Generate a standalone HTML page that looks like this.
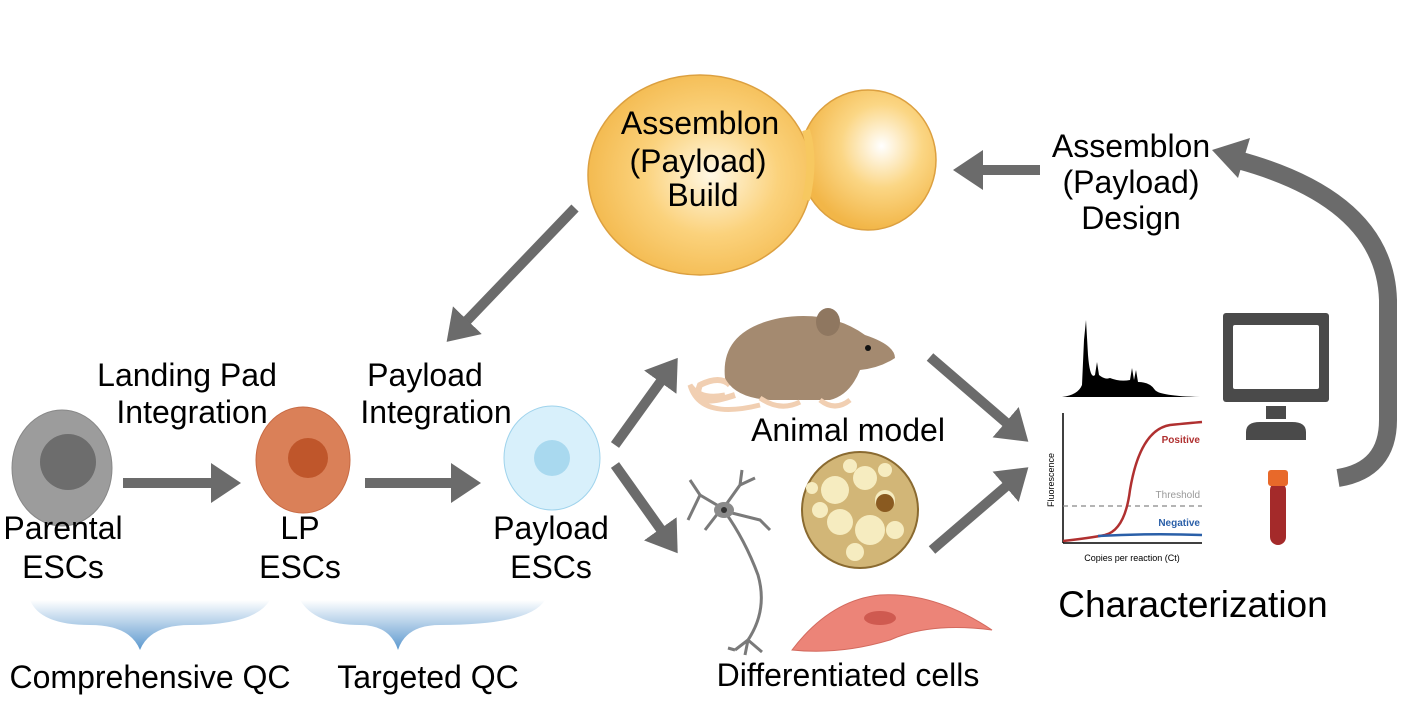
<!DOCTYPE html>
<html><head><meta charset="utf-8"><style>
html,body{margin:0;padding:0;background:#fff;}
svg{display:block;font-family:"Liberation Sans",Arial,sans-serif;}
</style></head><body>
<svg width="1402" height="703" viewBox="0 0 1402 703" xmlns="http://www.w3.org/2000/svg">
<defs>
<marker id="ah" markerWidth="4" markerHeight="4" refX="1.5" refY="2" orient="auto" markerUnits="strokeWidth">
<path d="M0,0 L3,2 L0,4 Z" fill="#6b6b6b"/></marker>
<radialGradient id="yg" cx="0.55" cy="0.5" r="0.6"><stop offset="0" stop-color="#fff8e4"/><stop offset="0.5" stop-color="#fbd27c"/><stop offset="1" stop-color="#f2b648"/></radialGradient>
<radialGradient id="yg2" cx="0.6" cy="0.4" r="0.6"><stop offset="0" stop-color="#ffffff"/><stop offset="0.5" stop-color="#fbd684"/><stop offset="1" stop-color="#f2b648"/></radialGradient>
<linearGradient id="bg" x1="0" y1="0" x2="0" y2="1"><stop offset="0" stop-color="#ffffff"/><stop offset="1" stop-color="#3f86c6"/></linearGradient>
</defs>

<ellipse cx="62" cy="468" rx="50" ry="58" fill="#9c9c9c" stroke="#888" stroke-width="1"/>
<circle cx="68" cy="462" r="28" fill="#6d6d6d"/>
<ellipse cx="303" cy="460" rx="47" ry="53" fill="#da8058" stroke="#c76a44"/>
<circle cx="308" cy="458" r="20" fill="#bf562b"/>
<ellipse cx="552" cy="458" rx="48" ry="52" fill="#d8f0fb" stroke="#9fd3ec"/>
<circle cx="552" cy="458" r="18" fill="#a9d9ef"/>

<g stroke="#6b6b6b" stroke-width="10" fill="none" marker-end="url(#ah)">
<line x1="123" y1="483" x2="226" y2="483"/>
<line x1="365" y1="483" x2="466" y2="483"/>
<line x1="575" y1="208" x2="457" y2="331"/>
<line x1="1040" y1="170" x2="968" y2="170"/>
<line x1="615" y1="445" x2="669" y2="370"/>
<line x1="615" y1="465" x2="669" y2="541"/>
<line x1="930" y1="357" x2="1017" y2="432"/>
<line x1="932" y1="550" x2="1017" y2="477"/>
</g>
<path d="M1338,478 Q1388,470 1388,420 L1388,300 Q1385,200 1238,160" stroke="#6b6b6b" stroke-width="18" fill="none"/>
<path d="M1212,150 L1250,138 L1238,178 Z" fill="#6b6b6b"/>

<ellipse cx="868" cy="160" rx="68" ry="70" fill="url(#yg2)" stroke="#dca040" stroke-width="1.5"/>
<ellipse cx="700" cy="175" rx="112" ry="100" fill="url(#yg)" stroke="#dca040" stroke-width="1.5"/>
<path d="M806,130 Q815,160 806,200" stroke="#f7c860" stroke-width="8" fill="none"/>

<path d="M30,600 Q40,625 90,625 Q130,625 140,650 Q150,625 190,625 Q255,625 270,600 Z" fill="url(#bg)" opacity="0.85"/>
<path d="M300,600 Q315,625 360,625 Q390,625 398,650 Q406,625 440,625 Q530,625 545,600 Z" fill="url(#bg)" opacity="0.85"/>

<path d="M735,395 Q690,410 700,385 Q720,375 730,385" stroke="#f1cfb2" stroke-width="6" fill="none"/>
<path d="M725,395 Q700,400 690,385 Q700,420 760,405" stroke="#f1cfb2" stroke-width="5" fill="none"/>
<path d="M725,378 Q720,330 780,318 Q830,310 865,335 Q895,345 895,358 Q880,368 860,370 Q850,395 830,400 L770,400 Q735,398 725,378 Z" fill="#a48a70"/>
<ellipse cx="828" cy="322" rx="12" ry="14" fill="#8f7760"/>
<circle cx="868" cy="348" r="3" fill="#111"/>
<path d="M760,398 Q780,412 800,402 M820,400 Q835,412 850,400" stroke="#f1cfb2" stroke-width="5" fill="none"/>

<g stroke="#7a7a7a" stroke-width="3" fill="none">
<path d="M725,512 Q745,540 758,575 Q768,610 748,640"/>
<path d="M722,508 L700,495 L690,480 M700,495 L688,520 M722,508 L705,530 M725,506 L740,485 L755,478 M740,485 L742,470 M728,512 L760,520 L770,530"/>
<path d="M748,640 L735,650 M748,640 L762,652 M748,640 L745,655 M735,650 L728,648"/>
</g>
<ellipse cx="724" cy="510" rx="10" ry="8" fill="#8a8a8a"/>
<circle cx="724" cy="510" r="3" fill="#333"/>

<circle cx="860" cy="510" r="58" fill="#d2b677" stroke="#8a6a30" stroke-width="2"/>
<g fill="#f6ecc0">
<circle cx="835" cy="490" r="14"/><circle cx="865" cy="478" r="12"/><circle cx="885" cy="500" r="10"/>
<circle cx="840" cy="522" r="13"/><circle cx="870" cy="530" r="15"/><circle cx="895" cy="530" r="9"/>
<circle cx="820" cy="510" r="8"/><circle cx="855" cy="552" r="9"/><circle cx="885" cy="470" r="7"/>
<circle cx="812" cy="488" r="6"/><circle cx="850" cy="466" r="7"/>
</g>
<circle cx="885" cy="503" r="9" fill="#8a5a20"/>

<path d="M792,650 Q830,600 880,595 Q935,592 992,630 Q930,622 890,640 Q840,655 792,650 Z" fill="#ec8478" stroke="#d36a5e"/>
<ellipse cx="880" cy="618" rx="16" ry="7" fill="#cf5a50"/>

<path d="M1062,397 Q1078,395 1082,385 L1084,340 L1086,320 L1088,355 Q1090,380 1095,375 L1097,362 L1099,375 Q1105,380 1110,378 Q1120,382 1130,380 L1132,368 L1134,380 L1136,370 L1138,382 Q1150,382 1155,390 Q1160,396 1200,397 Z" fill="#000"/>

<line x1="1063" y1="413" x2="1063" y2="543" stroke="#000" stroke-width="1.5"/>
<line x1="1063" y1="543" x2="1202" y2="543" stroke="#000" stroke-width="1.5"/>
<line x1="1063" y1="506" x2="1202" y2="506" stroke="#888" stroke-width="1.2" stroke-dasharray="5,4"/>
<path d="M1063,541 Q1090,538 1105,535 Q1125,530 1130,490 Q1140,430 1170,425 Q1190,423 1202,422" stroke="#b03030" stroke-width="2.5" fill="none"/>
<path d="M1098,536 Q1150,533 1202,535" stroke="#2a5fa8" stroke-width="2.5" fill="none"/>
<text x="1200" y="443" font-size="10" fill="#b03030" text-anchor="end" font-weight="bold">Positive</text>
<text x="1200" y="498" font-size="10" fill="#999" text-anchor="end">Threshold</text>
<text x="1200" y="526" font-size="10" fill="#2a5fa8" text-anchor="end" font-weight="bold">Negative</text>
<text x="1054" y="480" font-size="9" fill="#000" text-anchor="middle" transform="rotate(-90 1054 480)">Fluorescence</text>
<text x="1132" y="561" font-size="9" fill="#000" text-anchor="middle">Copies per reaction (Ct)</text>

<rect x="1223" y="313" width="106" height="89" rx="3" fill="#4a4a4a"/>
<rect x="1233" y="325" width="86" height="64" rx="2" fill="#fff"/>
<rect x="1266" y="406" width="20" height="13" fill="#4a4a4a"/>
<path d="M1246,440 L1246,432 Q1246,422 1260,422 L1292,422 Q1306,422 1306,432 L1306,440 Z" fill="#4a4a4a"/>

<rect x="1270" y="482" width="16" height="63" rx="8" fill="#a42a2a"/>
<rect x="1268" y="470" width="20" height="16" rx="3" fill="#e8692a"/>

<g font-size="32" fill="#000" text-anchor="middle">
<text x="700" y="134">Assemblon</text>
<text x="698" y="172">(Payload)</text>
<text x="703" y="206">Build</text>
<text x="1131" y="157">Assemblon</text>
<text x="1131" y="193">(Payload)</text>
<text x="1131" y="229">Design</text>
<text x="187" y="386">Landing Pad</text>
<text x="192" y="423">Integration</text>
<text x="425" y="386">Payload</text>
<text x="436" y="423">Integration</text>
<text x="63" y="539">Parental</text>
<text x="63" y="578">ESCs</text>
<text x="300" y="539">LP</text>
<text x="300" y="578">ESCs</text>
<text x="551" y="539">Payload</text>
<text x="551" y="578">ESCs</text>
<text x="848" y="441">Animal model</text>
<text x="848" y="686">Differentiated cells</text>
<text x="150" y="688">Comprehensive QC</text>
<text x="428" y="688">Targeted QC</text>
<text x="1193" y="617" font-size="37">Characterization</text>
</g>
</svg>
</body></html>
